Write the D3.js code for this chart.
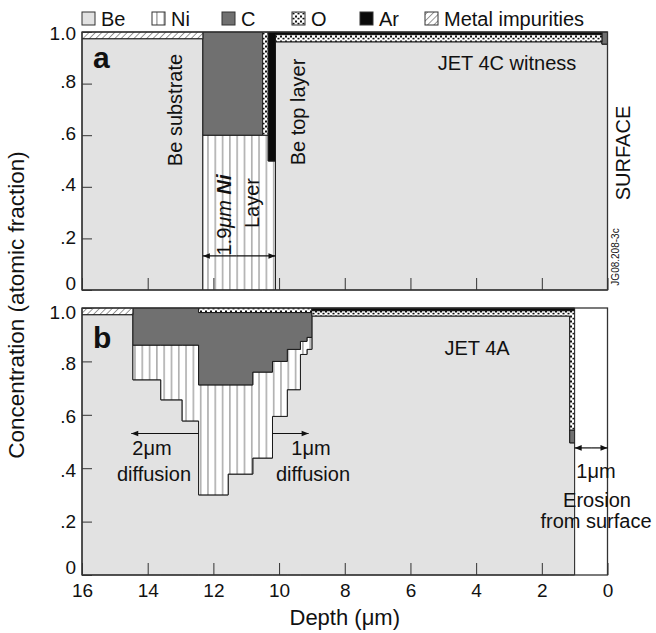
<!DOCTYPE html>
<html>
<head>
<meta charset="utf-8">
<script src="https://cdn.jsdelivr.net/npm/d3@7"></script>
<style>
    body { margin: 0; background: #fff; }
    svg { display: block; font-family: "Liberation Sans", Arial, sans-serif; }
</style>
</head>
<body>
<svg id="chart" width="656" height="633"></svg>
<script>
// stacking order, bottom to top
let elements = ["Be", "Ni", "C", "O", "Ar", "Metal impurities"];

let yTicks = [0, 0.2, 0.4, 0.6, 0.8, 1.0],
    yTickLabels = ["0", ".2", ".4", ".6", ".8", "1.0"],
    xTicks = [16, 14, 12, 10, 8, 6, 4, 2, 0];

// panel a - JET 4C witness: column edges (depth, um) and atomic fraction per column
let edgesA = [16, 12.32, 10.5, 10.33, 10.11, 0.17, 0];
let beA    = [0.974, 0, 0, 0, 0.962, 0.953],
    niA    = [0, 0.60, 0.60, 0.50, 0, 0],
    cA     = [0, 0.40, 0, 0, 0, 0.047],
    oA     = [0, 0, 0.40, 0, 0.028, 0],
    arA    = [0, 0, 0, 0.50, 0.01, 0],
    metalA = [0.026, 0, 0, 0, 0, 0];

// panel b - JET 4A
let edgesB = [16, 14.45, 13.6, 12.95, 12.45, 11.55, 10.8, 10.2, 9.75, 9.35, 9.15, 9.0, 1.15, 1.0];
let beB    = [0.975, 0.731, 0.656, 0.577, 0.300, 0.378, 0.438, 0.594, 0.694, 0.826, 0.845, 0.970, 0.495],
    niB    = [0, 0.130, 0.205, 0.284, 0.412, 0.334, 0.322, 0.206, 0.151, 0.049, 0.045, 0, 0],
    cB     = [0, 0.139, 0.139, 0.139, 0.271, 0.271, 0.223, 0.183, 0.138, 0.108, 0.093, 0, 0.048],
    oB     = [0, 0, 0, 0, 0.017, 0.017, 0.017, 0.017, 0.017, 0.017, 0.017, 0.020, 0.447],
    arB    = [0, 0, 0, 0, 0, 0, 0, 0, 0, 0, 0, 0.010, 0.010],
    metalB = [0.025, 0, 0, 0, 0, 0, 0, 0, 0, 0, 0, 0, 0];

let svg = d3.select("#chart");

let x = d3.scaleLinear().domain([16, 0]).range([82, 607.5]);
let yA = d3.scaleLinear().domain([0, 1]).range([290, 32]);
let yB = d3.scaleLinear().domain([0, 1]).range([575, 308]);

// fills and patterns
let defs = svg.append("defs");

let niPat = defs.append("pattern")
    .attr("id", "niPat")
    .attr("patternUnits", "userSpaceOnUse")
    .attr("width", 7.3)
    .attr("height", 10);
niPat.append("rect").attr("width", 7.3).attr("height", 10).attr("fill", "#fff");
niPat.append("line")
    .attr("x1", 3.6).attr("x2", 3.6).attr("y1", 0).attr("y2", 10)
    .attr("stroke", "#7c7c7c").attr("stroke-width", 1);

let oPat = defs.append("pattern")
    .attr("id", "oPat")
    .attr("patternUnits", "userSpaceOnUse")
    .attr("width", 5)
    .attr("height", 5);
oPat.append("rect").attr("width", 5).attr("height", 5).attr("fill", "#fff");
oPat.append("rect").attr("x", 0).attr("y", 0.5).attr("width", 2).attr("height", 2).attr("fill", "#111");
oPat.append("rect").attr("x", 2.5).attr("y", 2.8).attr("width", 2).attr("height", 1.6).attr("fill", "#111");

let metalPat = defs.append("pattern")
    .attr("id", "metalPat")
    .attr("patternUnits", "userSpaceOnUse")
    .attr("width", 4.5)
    .attr("height", 4.5)
    .attr("patternTransform", "rotate(45)");
metalPat.append("rect").attr("width", 4.5).attr("height", 4.5).attr("fill", "#fff");
metalPat.append("line")
    .attr("x1", 0).attr("x2", 0).attr("y1", 0).attr("y2", 4.5)
    .attr("stroke", "#555").attr("stroke-width", 1.2);

defs.append("marker")
    .attr("id", "arr")
    .attr("viewBox", "0 0 10 10")
    .attr("refX", 10)
    .attr("refY", 5)
    .attr("markerUnits", "userSpaceOnUse")
    .attr("markerWidth", 8)
    .attr("markerHeight", 7)
    .attr("orient", "auto-start-reverse")
    .append("path")
    .attr("d", "M0,1L10,5L0,9Z")
    .attr("fill", "#111");

let fills = {
    "Be": "#e2e2e2",
    "Ni": "url(#niPat)",
    "C": "#707070",
    "O": "url(#oPat)",
    "Ar": "#0a0a0a",
    "Metal impurities": "url(#metalPat)"
};

function columns(edges, be, ni, c, o, ar, metal) {
    return edges.slice(1).map((d, k) => ({
        "Be": be[k], "Ni": ni[k], "C": c[k], "O": o[k], "Ar": ar[k], "Metal impurities": metal[k]
    }));
}

// labelShift: small vertical nudges of the y tick labels, as printed in the original
function drawPanel(y, edges, cols, showX, labelShift) {
    let g = svg.append("g");
    let series = d3.stack().keys(elements)(cols);
    let line = d3.line()
        .x(p => x(p[0]))
        .y(p => y(p[1]));

    // one outlined polygon for each contiguous run of an element
    for(let s of series) {
        let runs = [], cur = null;
        s.forEach((v, k) => {
            if(v[1] - v[0] > 1e-6) {
                if(!cur) { cur = []; runs.push(cur); }
                cur.push(k);
            } else {
                cur = null;
            }
        });
        for(let run of runs) {
            let pts = [];
            for(let k of run) {
                pts.push([edges[k], s[k][0]], [edges[k + 1], s[k][0]]);
            }
            for(let k of run.slice().reverse()) {
                pts.push([edges[k + 1], s[k][1]], [edges[k], s[k][1]]);
            }
            g.append("path")
                .attr("d", line(pts) + "Z")
                .attr("fill", fills[s.key])
                .attr("stroke", "#1a1a1a")
                .attr("stroke-width", 1);
        }
    }

    let yAxis = d3.axisLeft(y)
        .tickValues(yTicks)
        .tickFormat((d, i) => yTickLabels[i])
        .tickSizeInner(-10)
        .tickSizeOuter(0)
        .tickPadding(6);

    g.append("g")
        .attr("transform", "translate(" + x(16) + ",0)")
        .call(yAxis)
        .call(a => a.select(".domain").remove())
        .attr("font-family", null)
        .attr("font-size", 19)
        .call(a => a.selectAll("line").attr("stroke", "#333"))
        .call(a => a.selectAll("text")
            .attr("fill", "#111")
            .attr("transform", (d, i) => "translate(0," + labelShift[i] + ")"));

    let xAxis = d3.axisBottom(x)
        .tickValues(xTicks)
        .tickSizeInner(-12)
        .tickSizeOuter(0)
        .tickPadding(9)
        .tickFormat(showX ? d3.format("d") : "");

    g.append("g")
        .attr("transform", "translate(0," + y(0) + ")")
        .call(xAxis)
        .call(a => a.select(".domain").remove())
        .attr("font-family", null)
        .attr("font-size", 19)
        .call(a => a.selectAll("line").attr("stroke", "#333"))
        .call(a => a.selectAll("text").attr("fill", "#111"));

    g.append("rect")
        .attr("x", x(16))
        .attr("y", y(1))
        .attr("width", x(0) - x(16))
        .attr("height", y(0) - y(1))
        .attr("fill", "none")
        .attr("stroke", "#333")
        .attr("stroke-width", 1.3);
    return g;
}

drawPanel(yA, edgesA, columns(edgesA, beA, niA, cA, oA, arA, metalA), false, [-7, -1, -2, -2, -2, 1]);
drawPanel(yB, edgesB, columns(edgesB, beB, niB, cB, oB, arB, metalB), true, [-8, 0, 2, 2, 2, 4]);

function label(px, py, str, size, anchor) {
    return svg.append("text")
        .attr("x", px)
        .attr("y", py)
        .attr("font-size", size || 20)
        .attr("text-anchor", anchor || "middle")
        .attr("fill", "#111")
        .text(str);
}

function vlabel(px, py, str, size) {
    return svg.append("text")
        .attr("transform", "translate(" + px + "," + py + ") rotate(-90)")
        .attr("font-size", size || 20)
        .attr("text-anchor", "middle")
        .attr("fill", "#111")
        .text(str);
}

function arrow(x1, x2, py) {
    svg.append("line")
        .attr("x1", x1).attr("x2", x2)
        .attr("y1", py).attr("y2", py)
        .attr("stroke", "#111")
        .attr("stroke-width", 1.2)
        .attr("marker-end", "url(#arr)");
}

// legend
let legendX = [82, 152, 222, 292, 360, 425];
elements.forEach((e, i) => {
    svg.append("rect")
        .attr("x", legendX[i])
        .attr("y", 12)
        .attr("width", 13)
        .attr("height", 13)
        .attr("fill", fills[e])
        .attr("stroke", "#333");
    label(legendX[i] + 19, 25.5, e, 20, "start");
});

// panel a annotations
label(93, 68, "a", 30, "start").attr("font-weight", "bold");
vlabel(182, 110, "Be substrate");
vlabel(305, 112, "Be top layer");
label(507, 70, "JET 4C witness");
vlabel(630, 153, "SURFACE");
vlabel(619, 257, "JG08.208-3c", 10);

let niLabel = vlabel(231, 215, "1.9");
niLabel.append("tspan").attr("font-style", "italic").text("\u03bcm ");
niLabel.append("tspan").attr("font-style", "italic").attr("font-weight", "bold").text("Ni");
vlabel(259, 203, "Layer");
arrow(x(11.3), x(12.32), yA(0.132));
arrow(x(11.3), x(10.11), yA(0.132));

// panel b annotations
label(93, 348, "b", 30, "start").attr("font-weight", "bold");
label(477, 355, "JET 4A");
arrow(x(12.45), x(14.5), yB(0.53));
arrow(x(10.2), x(9.1), yB(0.53));
label(152, 455, "2\u03bcm");
label(154, 481, "diffusion");
label(311, 455, "1\u03bcm");
label(313, 481, "diffusion");
arrow(x(0.5), x(1), yB(0.476));
arrow(x(0.5), x(0), yB(0.476));
label(596, 478, "1\u03bcm");
label(597, 507, "Erosion");
label(596, 528, "from surface");

// axis titles
label(x(8), 625, "Depth (\u03bcm)", 22);
vlabel(24, 305, "Concentration (atomic fraction)", 22.5);
</script>
</body>
</html>
